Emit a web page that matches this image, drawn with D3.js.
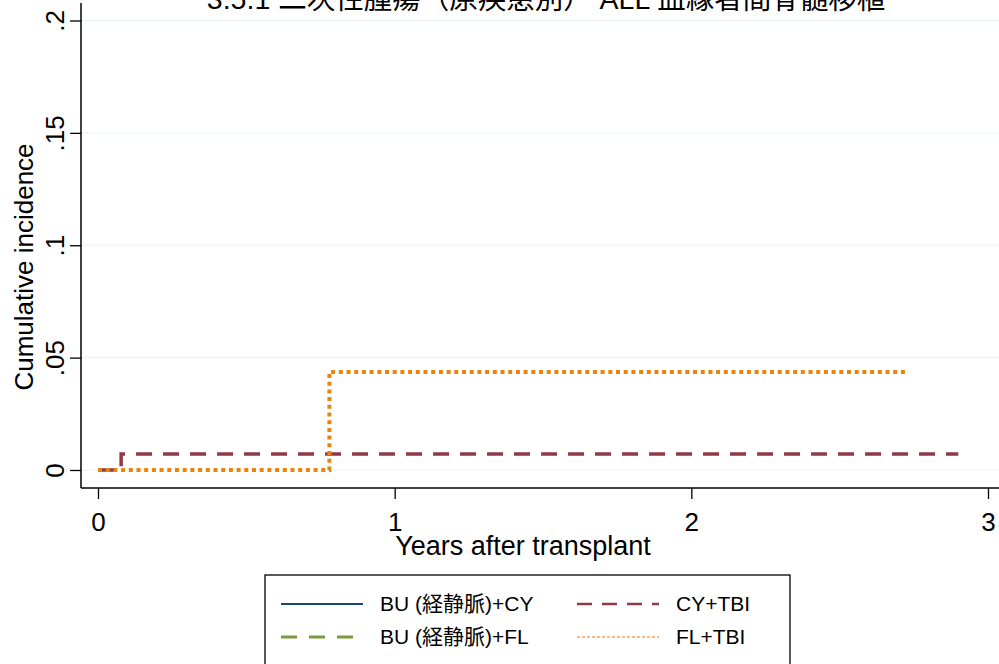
<!DOCTYPE html>
<html><head><meta charset="utf-8">
<script src="https://cdn.jsdelivr.net/npm/d3@7"></script>
<style>body{margin:0;background:#fff}svg{display:block}</style>
</head><body>
<svg id="chart" width="999" height="664"></svg>
<script>
const title = "3.5.1 二次性腫瘍（原疾患別） ALL 血縁者間骨髄移植";
const xLabel = "Years after transplant";
const yLabel = "Cumulative incidence";
const xTicks = [0, 1, 2, 3];
const xTickLabels = ["0", "1", "2", "3"];
const yTicks = [0, 0.05, 0.1, 0.15, 0.2];
const yTickLabels = ["0", ".05", ".1", ".15", ".2"];
const seriesNames = ["BU (経静脈)+CY", "BU (経静脈)+FL", "CY+TBI", "FL+TBI"];
// step-function data (time in years, cumulative incidence)
const buCyTimes = [];
const buCyValues = [];
const buFlTimes = [];
const buFlValues = [];
const cyTbiTimes = [0, 0.078, 2.90];
const cyTbiValues = [0, 0.0071, 0.0071];
const flTbiTimes = [0, 0.78, 2.726];
const flTbiValues = [0, 0.0436, 0.0436];

const FONT = "'Liberation Sans', Arial, 'Noto Sans CJK JP', sans-serif";
const svg = d3.select("#chart");
const x = d3.scaleLinear().domain([0, 3]).range([98, 988]);
const y = d3.scaleLinear().domain([0, 0.2]).range([470, 20.5]);
const axisX0 = 81, axisY0 = 488;

const styles = [
  {color: "#1a476f", width: 3, dash: null, lw: 2, ldash: null},
  {color: "#7d9a3c", width: 3, dash: "16,10", lw: 3, ldash: "16,12"},
  {color: "#8f3a45", width: 3.5, dash: "16,11", lw: 2.5, ldash: "15,10"},
  {color: "#e8850f", width: 4, dash: "4,3.7", lw: 1.5, ldash: "3,2", lcolor: "#f6a45e"}
];
const series = [
  {t: buCyTimes, v: buCyValues},
  {t: buFlTimes, v: buFlValues},
  {t: cyTbiTimes, v: cyTbiValues},
  {t: flTbiTimes, v: flTbiValues}
];

// gridlines
svg.append("g").selectAll("line").data(yTicks).join("line")
  .attr("x1", axisX0).attr("x2", 999)
  .attr("y1", d => y(d)).attr("y2", d => y(d))
  .attr("stroke", "#eaf2f3").attr("stroke-width", 1);

// axes
const yAxis = d3.axisLeft(y).tickValues(yTicks).tickFormat((d, i) => yTickLabels[i]).tickSize(11).tickSizeOuter(0);
const gy = svg.append("g").attr("transform", `translate(${axisX0},0)`).call(yAxis);
gy.select(".domain").remove();
gy.selectAll(".tick line").attr("stroke", "#000").attr("stroke-width", 1.3);
gy.selectAll(".tick text").attr("font-family", FONT).attr("font-size", 26).attr("fill", "#000")
  .attr("transform", "translate(-26,0) rotate(-90)").attr("x", 0).attr("y", 0).attr("dy", "0.36em")
  .attr("text-anchor", "middle");
svg.append("line").attr("x1", axisX0).attr("x2", axisX0).attr("y1", 3).attr("y2", axisY0)
  .attr("stroke", "#000").attr("stroke-width", 1.5);

const xAxis = d3.axisBottom(x).tickValues(xTicks).tickFormat((d, i) => xTickLabels[i]).tickSize(11).tickSizeOuter(0);
const gx = svg.append("g").attr("transform", `translate(0,${axisY0})`).call(xAxis);
gx.select(".domain").remove();
gx.selectAll(".tick line").attr("stroke", "#000").attr("stroke-width", 1.3);
gx.selectAll(".tick text").attr("font-family", FONT).attr("font-size", 26).attr("fill", "#000")
  .attr("y", 43).attr("dy", 0);
svg.append("line").attr("x1", axisX0).attr("x2", 999).attr("y1", axisY0).attr("y2", axisY0)
  .attr("stroke", "#000").attr("stroke-width", 1.5);

// lines
const line = d3.line().x(d => x(d[0])).y(d => y(d[1])).curve(d3.curveStepAfter);
series.forEach((s, i) => {
  if (!s.t.length) return;
  const pts = s.t.map((t, j) => [t, s.v[j]]);
  svg.append("path").datum(pts).attr("d", line).attr("fill", "none")
    .attr("stroke", styles[i].color).attr("stroke-width", styles[i].width)
    .attr("stroke-dasharray", styles[i].dash);
});

// labels
svg.append("text").attr("x", 546).attr("y", 9).attr("text-anchor", "middle")
  .attr("font-family", FONT).attr("font-size", 28.5).attr("fill", "#000").text(title);
svg.append("text").attr("x", 523).attr("y", 555).attr("text-anchor", "middle")
  .attr("font-family", FONT).attr("font-size", 27).attr("fill", "#000").text(xLabel);
svg.append("text").attr("transform", "translate(33,267) rotate(-90)").attr("text-anchor", "middle")
  .attr("font-family", FONT).attr("font-size", 26).attr("fill", "#000").text(yLabel);

// legend
svg.append("rect").attr("x", 265).attr("y", 575).attr("width", 525).attr("height", 100)
  .attr("fill", "#fff").attr("stroke", "#000").attr("stroke-width", 1.3);
const legPos = [[281, 604], [281, 637], [577, 604], [577, 637]];
seriesNames.forEach((name, i) => {
  const [lx, ly] = legPos[i];
  svg.append("line").attr("x1", lx).attr("x2", lx + 82).attr("y1", ly).attr("y2", ly)
    .attr("stroke", styles[i].lcolor || styles[i].color).attr("stroke-width", styles[i].lw)
    .attr("stroke-dasharray", styles[i].ldash);
  svg.append("text").attr("x", i < 2 ? 380 : 676).attr("y", ly).attr("dy", "0.35em")
    .attr("font-family", FONT).attr("font-size", 21).attr("fill", "#000").text(name);
});
</script>
</body></html>
